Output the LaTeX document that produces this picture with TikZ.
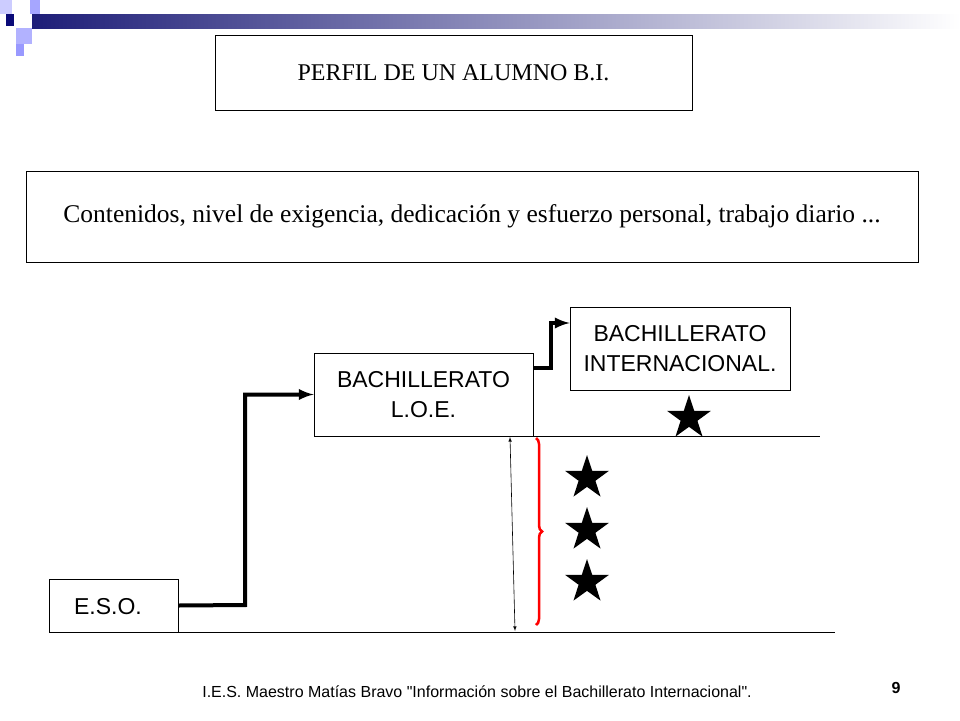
\documentclass[tikz,border=0pt]{standalone}
\usepackage{fontspec}
\setmainfont{Liberation Serif}
\newfontfamily\boxfont{Liberation Sans}
\usetikzlibrary{shapes.geometric,decorations.pathreplacing}
\definecolor{headnavy}{RGB}{30,30,120}
\definecolor{logonavy}{RGB}{10,10,120}
\begin{document}
\begin{tikzpicture}[x=1pt,y=-1pt,
    titlebox/.style={draw, line width=0.8, inner sep=0pt},
    stepbox/.style={draw, line width=0.8, align=center, font=\boxfont\fontsize{23}{30}\selectfont},
    stepline/.style={line width=4pt, arrows=-latex},
    starmark/.style={star, star points=5, star point ratio=2.6, fill=black, minimum size=46pt, inner sep=0pt}]
        \useasboundingbox (0,0) rectangle (960,720);

        % Header:
        \shade[left color=headnavy, right color=white] (32,14) rectangle (960,28);
        \fill[blue!20!white] (0,0) rectangle (12,14);
        \fill[blue!35!white] (30,0) rectangle (40,14);
        \fill[blue!30!white] (16,28) rectangle (32,44);
        \fill[blue!40!white] (16,44) rectangle (24,56);
        \fill[logonavy] (6,14) rectangle (14,26);

        % Boxes:
        \node[titlebox, minimum width=477, minimum height=75, font=\fontsize{24}{28}\selectfont] (title) at (453.5,72.5) {PERFIL DE UN ALUMNO B.I.};
        \node[titlebox, minimum width=892, minimum height=91, font=\fontsize{25.5}{30}\selectfont] (demand) at (472,216.5) {Contenidos, nivel de exigencia, dedicación y esfuerzo personal, trabajo diario ...};
        \node[stepbox, minimum width=220, minimum height=83] (ib) at (680,348.5) {BACHILLERATO\\INTERNACIONAL.};
        \node[stepbox, minimum width=219, minimum height=83] (loe) at (423.5,394.5) {BACHILLERATO\\L.O.E.};
        \node[draw, line width=0.8, minimum width=129, minimum height=53] (eso) at (113.5,605.5) {};
        \node[font=\boxfont\fontsize{23}{30}\selectfont] (esotext) at (108,607) {E.S.O.};

        % Levels:
        \coordinate (midtop) at (533,436);
        \coordinate (midend) at (820,436);
        \coordinate (lowtop) at (178,632);
        \coordinate (lowend) at (835,632);
        \draw[line width=0.8] (midtop) -- (midend);
        \draw[line width=0.8] (lowtop) -- (lowend);

        % Steps:
        \draw[stepline] (eso.east) -- (245,605) |- (loe.west);
        \draw[stepline] (533,368) -- (551,368) |- (ib.west |- 0,323);

        % Gap:
        \coordinate (gaptop) at (510,437);
        \coordinate (gapend) at (515,631);
        \draw[line width=0.6, latex-latex] (gaptop) -- (gapend);
        \draw[red, line width=2.5, decorate, decoration={brace, amplitude=6pt}] (536,438) -- (536,625);

        % Stars:
        \foreach \y in {478, 530, 582}
            \node[starmark] (star\y) at (587,\y) {};
        \node[starmark] (starib) at (689,418) {};

        % Footer:
        \node[font=\boxfont\fontsize{16}{19}\selectfont] (footer) at (477,692) {I.E.S. Maestro Matías Bravo "Información sobre el Bachillerato Internacional".};
        \node[font=\boxfont\bfseries\fontsize{16}{19}\selectfont] (page) at (896,688) {9};
    \end{tikzpicture}
\end{document}
